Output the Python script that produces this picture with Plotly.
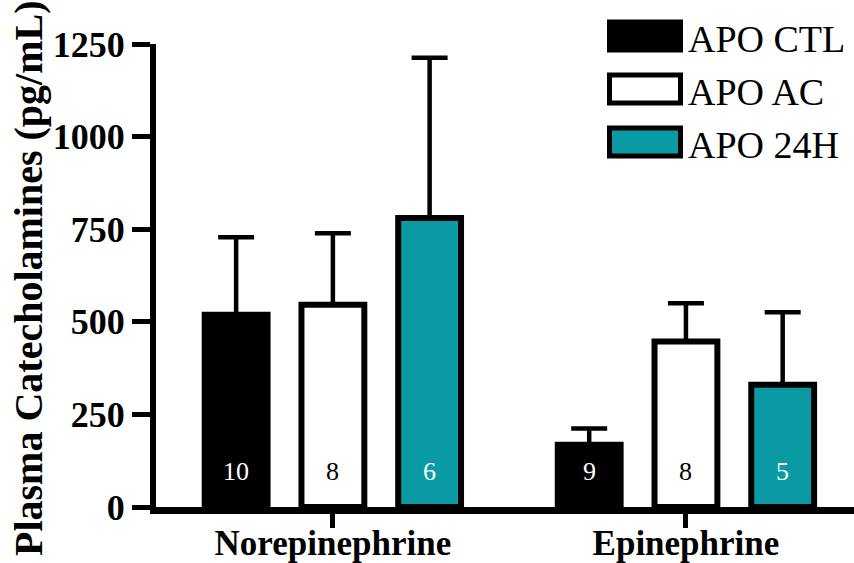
import plotly.graph_objects as go

categories = ["Norepinephrine", "Epinephrine"]
series = ["APO CTL", "APO AC", "APO 24H"]
means = {
    "APO CTL": [519, 168],
    "APO AC": [546, 447],
    "APO 24H": [780, 330],
}
sem_upper = {
    "APO CTL": [728, 212],
    "APO AC": [739, 550],
    "APO 24H": [1213, 526],
}
n_labels = {
    "APO CTL": ["10", "9"],
    "APO AC": ["8", "8"],
    "APO 24H": ["6", "5"],
}
y_ticks = [0, 250, 500, 750, 1000, 1250]

fills = {"APO CTL": "#000000", "APO AC": "#ffffff", "APO 24H": "#0A9AA3"}
label_colors = {"APO CTL": "white", "APO AC": "black", "APO 24H": "white"}

W, H = 854, 563
L, R, T, B = 156, 0, 44, 56
PW, PH = W - L - R, H - T - B

def px_x(px):
    return (px - L) / PW

def px_y(py):
    return (H - B - py) / PH

SERIF = "Liberation Serif"
step = 0.274
bw = 0.178

fig = go.Figure()
annotations = []
for j, s in enumerate(series):
    xs = [i + (j - 1) * step for i in range(len(categories))]
    errs = [u - m for u, m in zip(sem_upper[s], means[s])]
    fig.add_trace(go.Bar(
        x=xs, y=means[s], width=bw, name=s,
        marker=dict(color=fills[s], line=dict(color="black", width=6)),
        error_y=dict(type="data", symmetric=False, array=errs,
                     arrayminus=[0] * len(errs), width=18, thickness=4.5,
                     color="black"),
        showlegend=False,
    ))
    for x, t in zip(xs, n_labels[s]):
        annotations.append(dict(x=x, y=95, xref="x", yref="y", text=t,
                                showarrow=False,
                                font=dict(family=SERIF, size=26,
                                          color=label_colors[s])))

# manual legend
shapes = []
row_centers = [36, 89, 142]
for s, cy in zip(series, row_centers):
    shapes.append(dict(type="rect", xref="paper", yref="paper",
                       x0=px_x(609.5), x1=px_x(680.5),
                       y0=px_y(cy + 14), y1=px_y(cy - 14),
                       line=dict(color="black", width=5),
                       fillcolor=fills[s], layer="above"))
    annotations.append(dict(x=px_x(686), y=px_y(cy + 3), xref="paper",
                            yref="paper", text=s, showarrow=False,
                            xanchor="left", yanchor="middle",
                            font=dict(family=SERIF, size=38, color="black")))

annotations.append(dict(x=px_x(28), y=px_y(278), xref="paper", yref="paper",
                        text="<b>Plasma Catecholamines (pg/mL)</b>",
                        textangle=-90, showarrow=False,
                        xanchor="center", yanchor="middle",
                        font=dict(family=SERIF, size=40, color="black")))

fig.update_layout(
    width=W, height=H,
    margin=dict(l=L, r=R, t=T, b=B, pad=0, autoexpand=False),
    plot_bgcolor="white", paper_bgcolor="white",
    barmode="overlay",
    shapes=shapes,
    annotations=annotations,
    xaxis=dict(
        range=[-0.501, 1.476], tickmode="array", tickvals=[0, 1],
        ticktext=["<b>%s</b>" % c for c in categories],
        showgrid=False, zeroline=False, showline=True, linecolor="black",
        linewidth=7, ticks="outside", ticklen=14, tickwidth=5,
        tickcolor="black", automargin=False, ticklabelstandoff=-15,
        tickfont=dict(family=SERIF, size=35, color="black"),
    ),
    yaxis=dict(
        range=[0, 1250], tickmode="array", tickvals=y_ticks,
        ticktext=["<b>%d</b>" % v for v in y_ticks],
        showgrid=False, zeroline=False, showline=True, linecolor="black",
        linewidth=6, ticks="outside", ticklen=18, tickwidth=5,
        tickcolor="black", automargin=False,
        tickfont=dict(family=SERIF, size=36, color="black"),
    ),
)

fig.write_html("out.html",
               config={"displayModeBar": False},
               post_script="document.body.style.margin='0';"
                           "document.body.style.padding='0';")
